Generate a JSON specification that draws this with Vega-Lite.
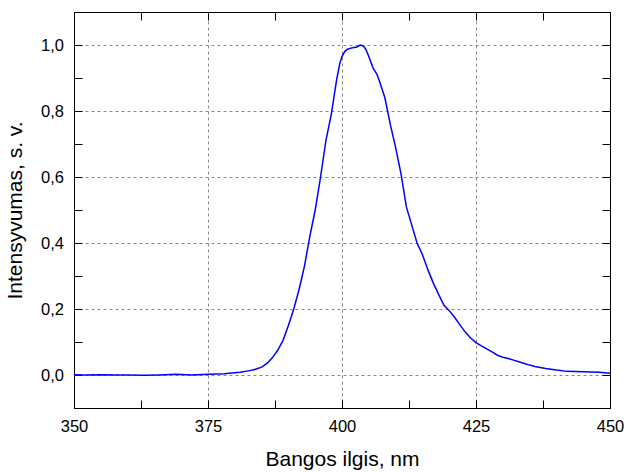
{
  "$schema": "https://vega.github.io/schema/vega-lite/v6.json",
  "autosize": "none",
  "width": 536,
  "height": 396,
  "padding": {"left": 74, "top": 12, "right": 17, "bottom": 64},
  "background": "white",
  "config": {
    "view": {"stroke": "black", "strokeWidth": 1},
    "font": "Liberation Sans",
    "axis": {
      "domainColor": "black",
      "tickColor": "black",
      "labelFont": "Liberation Sans",
      "titleFont": "Liberation Sans",
      "labelFontSize": 16.5,
      "titleFontSize": 21,
      "titleFontWeight": "normal",
      "labelColor": "black",
      "titleColor": "black",
      "gridColor": "#888888",
      "gridDash": [3, 3],
      "gridWidth": 1
    }
  },
  "data": {
    "values": [
      {"wl": 350, "i": 0.001}, {"wl": 352, "i": 0.0}, {"wl": 355, "i": 0.001}, {"wl": 358, "i": 0.0},
      {"wl": 360, "i": 0.0}, {"wl": 363, "i": -0.001}, {"wl": 366, "i": 0.0}, {"wl": 369, "i": 0.002},
      {"wl": 372, "i": 0.0}, {"wl": 375, "i": 0.002}, {"wl": 378, "i": 0.004}, {"wl": 380, "i": 0.007},
      {"wl": 381, "i": 0.008}, {"wl": 382, "i": 0.011}, {"wl": 383, "i": 0.014}, {"wl": 384, "i": 0.018},
      {"wl": 385, "i": 0.024}, {"wl": 386, "i": 0.035}, {"wl": 387, "i": 0.052}, {"wl": 388, "i": 0.075},
      {"wl": 389, "i": 0.105}, {"wl": 390, "i": 0.15}, {"wl": 391, "i": 0.2}, {"wl": 392, "i": 0.26},
      {"wl": 393, "i": 0.33}, {"wl": 394, "i": 0.42}, {"wl": 395, "i": 0.5}, {"wl": 396, "i": 0.6},
      {"wl": 397, "i": 0.71}, {"wl": 398, "i": 0.79}, {"wl": 399, "i": 0.895}, {"wl": 399.6, "i": 0.945},
      {"wl": 400, "i": 0.965}, {"wl": 400.5, "i": 0.98}, {"wl": 401, "i": 0.987}, {"wl": 402, "i": 0.992},
      {"wl": 402.8, "i": 0.994}, {"wl": 403.4, "i": 1.0}, {"wl": 404, "i": 0.997}, {"wl": 404.5, "i": 0.985},
      {"wl": 405, "i": 0.965}, {"wl": 405.8, "i": 0.93}, {"wl": 406.5, "i": 0.912}, {"wl": 407, "i": 0.89},
      {"wl": 408, "i": 0.84}, {"wl": 409, "i": 0.76}, {"wl": 410, "i": 0.69}, {"wl": 411, "i": 0.61},
      {"wl": 412, "i": 0.51}, {"wl": 413, "i": 0.455}, {"wl": 414, "i": 0.4}, {"wl": 415, "i": 0.365},
      {"wl": 416, "i": 0.32}, {"wl": 417, "i": 0.28}, {"wl": 418, "i": 0.245}, {"wl": 419, "i": 0.212},
      {"wl": 420, "i": 0.195}, {"wl": 421, "i": 0.175}, {"wl": 422, "i": 0.152}, {"wl": 423, "i": 0.13},
      {"wl": 424, "i": 0.112}, {"wl": 425, "i": 0.098}, {"wl": 426, "i": 0.088}, {"wl": 427, "i": 0.079},
      {"wl": 428, "i": 0.07}, {"wl": 429, "i": 0.06}, {"wl": 430, "i": 0.054}, {"wl": 431, "i": 0.05},
      {"wl": 432, "i": 0.045}, {"wl": 433, "i": 0.04}, {"wl": 434, "i": 0.035}, {"wl": 435, "i": 0.03},
      {"wl": 436, "i": 0.026}, {"wl": 437, "i": 0.023}, {"wl": 438, "i": 0.02}, {"wl": 440, "i": 0.015},
      {"wl": 442, "i": 0.011}, {"wl": 445, "i": 0.01}, {"wl": 448, "i": 0.008}, {"wl": 450, "i": 0.005}
    ]
  },
  "layer": [
    {
      "mark": {"type": "line", "opacity": 0},
      "encoding": {
        "x": {
          "field": "wl", "type": "quantitative",
          "scale": {"domain": [350, 450], "nice": false, "zero": false},
          "axis": {
            "orient": "bottom",
            "title": "Bangos ilgis, nm",
            "titlePadding": 13,
            "values": [350, 362.5, 375, 387.5, 400, 412.5, 425, 437.5, 450],
            "format": "d",
            "labelExpr": "datum.value % 25 == 0 ? datum.label : ''",
            "tickSize": -8,
            "labelPadding": 18.5,
            "labelFlush": false,
            "labelOverlap": false,
            "grid": false,
            "encode": {"ticks": {"update": {"y2": {"signal": "datum.value % 25 == 0 ? -8 : -4"}}}}
          }
        },
        "y": {
          "field": "i", "type": "quantitative",
          "scale": {"domain": [-0.1, 1.1], "nice": false, "zero": false},
          "axis": {
            "orient": "left",
            "title": "Intensyvumas, s. v.",
            "titlePadding": 15,
            "values": [-0.1, 0, 0.1, 0.2, 0.3, 0.4, 0.5, 0.6, 0.7, 0.8, 0.9, 1.0, 1.1],
            "labelExpr": "abs(datum.value*5 - round(datum.value*5)) < 0.001 && datum.value >= 0 ? replace(format(datum.value, '.1f'), '.', ',') : ''",
            "tickSize": -8,
            "labelPadding": 18.5,
            "labelFlush": false,
            "labelOverlap": false,
            "grid": false,
            "encode": {"ticks": {"update": {"x2": {"signal": "abs(datum.value*5 - round(datum.value*5)) < 0.001 ? 8 : 4"}}}}
          }
        }
      }
    },
    {
      "mark": {"type": "line", "opacity": 0},
      "encoding": {
        "x": {
          "field": "wl", "type": "quantitative",
          "axis": {
            "orient": "top", "title": null, "labels": false, "grid": true,
            "values": [350, 362.5, 375, 387.5, 400, 412.5, 425, 437.5, 450],
            "tickSize": -8,
            "gridOpacity": {"condition": {"test": "datum.value % 25 == 0 && datum.value > 350 && datum.value < 450", "value": 1}, "value": 0},
            "encode": {"ticks": {"update": {"y2": {"signal": "datum.value % 25 == 0 ? 8 : 4"}}}}
          }
        },
        "y": {
          "field": "i", "type": "quantitative",
          "axis": {
            "orient": "right", "title": null, "labels": false, "grid": true,
            "values": [-0.1, 0, 0.1, 0.2, 0.3, 0.4, 0.5, 0.6, 0.7, 0.8, 0.9, 1.0, 1.1],
            "tickSize": -8,
            "gridOpacity": {"condition": {"test": "abs(datum.value*5 - round(datum.value*5)) < 0.001 && datum.value > -0.05 && datum.value < 1.05", "value": 1}, "value": 0},
            "encode": {"ticks": {"update": {"x2": {"signal": "abs(datum.value*5 - round(datum.value*5)) < 0.001 ? -8 : -4"}}}}
          }
        }
      }
    },
    {
      "mark": {"type": "line", "color": "#0000ff", "strokeWidth": 1.5, "clip": true},
      "encoding": {
        "x": {"field": "wl", "type": "quantitative", "axis": null},
        "y": {"field": "i", "type": "quantitative", "axis": null}
      }
    }
  ],
  "resolve": {"axis": {"x": "independent", "y": "independent"}}
}
